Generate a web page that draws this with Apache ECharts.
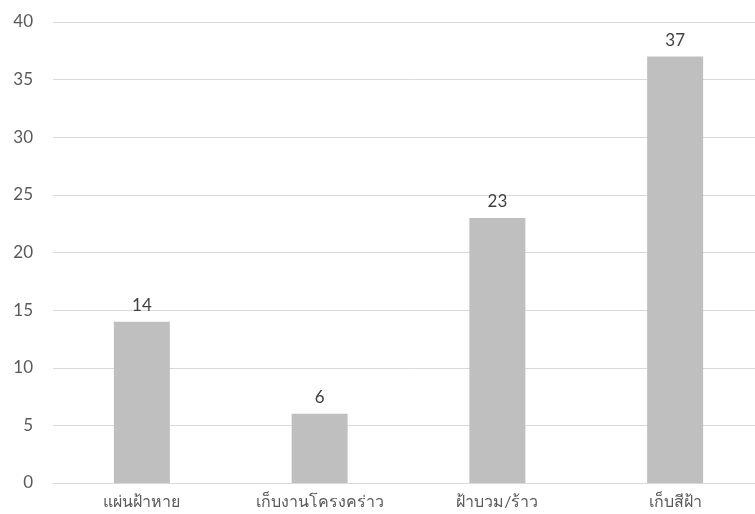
<!DOCTYPE html>
<html><head><meta charset="utf-8">
<script src="https://cdn.jsdelivr.net/npm/echarts@6/dist/echarts.min.js"></script>
<style>html,body{margin:0;padding:0;background:#fff;overflow:hidden;width:755px;height:514px}#c{width:770px;height:514px}</style>
</head><body><div id="c"></div>
<script>
const categories = ['แผ่นฝ้าหาย', 'เก็บงานโครงคร่าว', 'ฝ้าบวม/ร้าว', 'เก็บสีฝ้า'];
const values = [14, 6, 23, 37];
const yTicks = [0, 5, 10, 15, 20, 25, 30, 35, 40];
const FONT = 'Lato, "Open Sans", "Noto Sans", "DejaVu Sans", sans-serif';
const chart = echarts.init(document.getElementById('c'));
chart.setOption({
  animation: false,
  grid: { left: 53, right: 6, top: 22, bottom: 31, containLabel: false },
  xAxis: {
    type: 'category', data: categories,
    axisLine: { lineStyle: { color: '#d9d9d9', width: 1 } },
    axisTick: { show: false },
    axisLabel: { color: '#595959', fontSize: 16, fontFamily: FONT, margin: 11 }
  },
  yAxis: {
    type: 'value', min: yTicks[0], max: yTicks[yTicks.length - 1], interval: 5,
    axisLine: { show: false }, axisTick: { show: false },
    splitLine: { lineStyle: { color: '#d9d9d9', width: 1 } },
    axisLabel: { color: '#595959', fontSize: 17, fontFamily: FONT, margin: 20 }
  },
  series: [{
    type: 'bar', data: values, barWidth: '31.5%',
    itemStyle: { color: '#bfbfbf' },
    label: { show: true, position: 'top', color: '#404040', fontSize: 17, fontFamily: FONT, distance: 8 }
  }]
});
</script></body></html>
